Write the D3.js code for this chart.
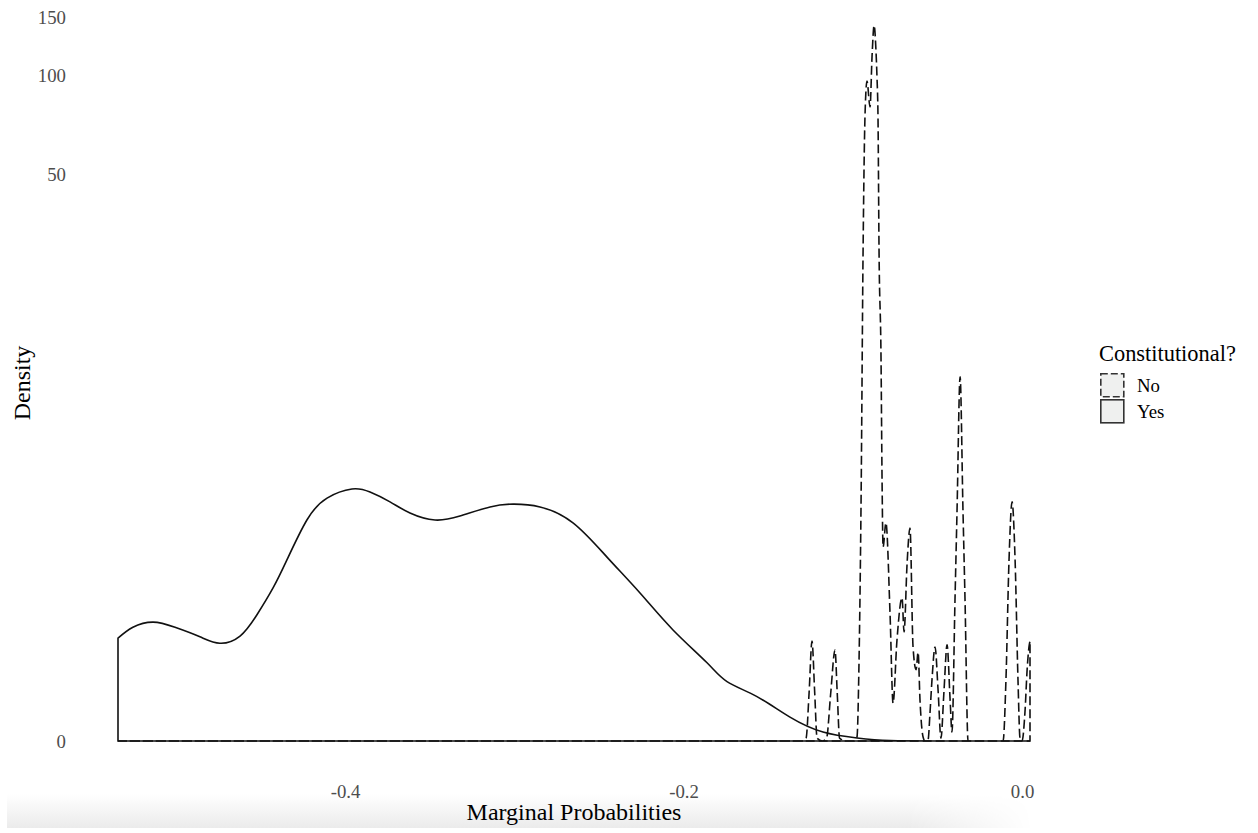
<!DOCTYPE html>
<html lang="en">
<head>
  <meta charset="UTF-8">
  <title>Marginal Probabilities Density</title>
  <style>
    html, body {
      margin: 0;
      padding: 0;
      background: #fff;
    }
    #svg {
      display: block;
      font-family: "Liberation Serif", "DejaVu Serif", serif;
    }
  </style>
</head>
<body>
  <svg id="svg" width="1258" height="833"></svg>

  <script src="https://cdn.jsdelivr.net/npm/d3@7"></script>
  <script>
    // Yes group: density of marginal probabilities
    const yesX = [-0.5341, -0.5253, -0.5134, -0.5004, -0.4857, -0.4739, -0.4620, -0.4520, -0.4425, -0.4343,
      -0.4225, -0.4106, -0.3959, -0.3852, -0.3734, -0.3616, -0.3468, -0.3321, -0.3143, -0.3007,
      -0.2848, -0.2653, -0.2452, -0.2257, -0.2062, -0.1861, -0.1743, -0.1566, -0.1371, -0.1176,
      -0.0975, -0.0780, -0.0425, 0.0047];
    const yesDensity = [1.04, 1.20, 1.28, 1.20, 1.06, 0.97, 1.07, 1.40, 1.89, 2.51,
      3.63, 4.39, 4.74, 4.62, 4.25, 3.86, 3.63, 3.76, 4.07, 4.17,
      4.07, 3.54, 2.58, 1.79, 1.16, 0.72, 0.51, 0.36, 0.18, 0.064,
      0.021, 0.003, 0.0005, 0];

    // No group
    const noX = [-0.5341, -0.1300, -0.1276, -0.1258, -0.1241, -0.1225, -0.1211, -0.1180, -0.1155, -0.1130,
      -0.1105, -0.1092, -0.1078, -0.1040, -0.0990, -0.0975, -0.0963, -0.0951, -0.0939, -0.0928,
      -0.0916, -0.0898, -0.0886, -0.0874, -0.0863, -0.0857, -0.0851, -0.0845, -0.0833, -0.0827,
      -0.0821, -0.0804, -0.0780, -0.0762, -0.0739, -0.0709, -0.0697, -0.0679, -0.0662, -0.0644,
      -0.0626, -0.0614, -0.0603, -0.0585, -0.0573, -0.0555, -0.0544, -0.0532, -0.0514, -0.0496,
      -0.0479, -0.0461, -0.0443, -0.0425, -0.0414, -0.0396, -0.0384, -0.0366, -0.0349, -0.0337,
      -0.0319, -0.0112, -0.0095, -0.0077, -0.0059, -0.0041, -0.0024, -0.0012, 0.0000, 0.0018,
      0.0030, 0.0041, 0.0047];
    const noDensity = [0, 0, 0.02, 0.40, 1.0, 0.40, 0.02, 0, 0.02, 0.40,
      0.88, 0.40, 0.02, 0, 0, 0.03, 0.75, 4.3, 29.5, 74.7,
      96.2, 80.2, 115, 142, 119, 99, 74.7, 29.5, 13.0, 5.1,
      2.84, 3.54, 1.43, 0.30, 1.01, 1.70, 1.13, 2.44, 3.38, 0.92,
      0.64, 0.85, 0.33, 0.03, 0, 0.01, 0.21, 0.53, 0.92, 0.42,
      0.02, 0.42, 0.95, 0.33, 0.064, 1.68, 3.96, 11.5, 3.96, 1.68,
      0, 0, 0.53, 2.5, 4.25, 2.5, 0.53, 0.02, 0, 0.24,
      0.64, 0.92, 1.0];

    const groups = ['No', 'Yes'];
    const xTicks = [-0.4, -0.2, 0.0];
    const yTicks = [0, 50, 100, 150];

    const svg = d3.select('#svg');

    const xScale = d3.scaleLinear()
      .domain([-0.5341, 0.0047])
      .range([118, 1030]);

    // log(1 + y) scale
    const yScale = d3.scaleSymlog()
      .constant(1)
      .domain([0, 150])
      .range([741, 741 - 144.2 * Math.log(151)]);

    // bottom shadow band
    const defs = svg.append('defs');
    const gv = defs.append('linearGradient').attr('id', 'shadeV')
      .attr('x1', 0).attr('y1', 0).attr('x2', 0).attr('y2', 1);
    gv.append('stop').attr('offset', 0).attr('stop-color', '#ffffff');
    gv.append('stop').attr('offset', 1).attr('stop-color', '#ebebeb');
    const gh = defs.append('linearGradient').attr('id', 'fadeH')
      .attr('x1', 0).attr('y1', 0).attr('x2', 1).attr('y2', 0);
    gh.append('stop').attr('offset', 0.72).attr('stop-color', '#fff');
    gh.append('stop').attr('offset', 0.82).attr('stop-color', '#000');
    defs.append('mask').attr('id', 'bandMask')
      .append('rect')
      .attr('x', 7).attr('y', 794).attr('width', 1251).attr('height', 34)
      .attr('fill', 'url(#fadeH)');
    svg.append('rect')
      .attr('x', 7).attr('y', 794).attr('width', 1251).attr('height', 34)
      .attr('fill', 'url(#shadeV)')
      .attr('mask', 'url(#bandMask)');

    const smoothLine = d3.line()
      .x(d => xScale(d[0]))
      .y(d => yScale(d[1]))
      .curve(d3.curveNatural);

    const spikyLine = d3.line()
      .x(d => xScale(d[0]))
      .y(d => yScale(d[1]))
      .curve(d3.curveMonotoneX);

    function densityPath(xs, ys, line) {
      const pts = xs.map((v, i) => [v, ys[i]]);
      const x0 = xScale(xs[0]);
      const x1 = xScale(xs[xs.length - 1]);
      const y0 = yScale(0);
      return `M${x0},${y0}L` + line(pts).slice(1) + `L${x1},${y0}Z`;
    }

    svg.append('path')
      .attr('d', densityPath(noX, noDensity, spikyLine))
      .attr('fill', 'none')
      .attr('stroke', '#111')
      .attr('stroke-width', 1.6)
      .attr('stroke-dasharray', '9,4');

    svg.append('path')
      .attr('d', densityPath(yesX, yesDensity, smoothLine))
      .attr('fill', 'none')
      .attr('stroke', '#111')
      .attr('stroke-width', 1.6);

    // axes
    const xAxis = svg.append('g')
      .attr('transform', 'translate(0,741)')
      .call(d3.axisBottom(xScale).tickValues(xTicks).tickSize(0).tickPadding(44)
        .tickFormat(d => d.toFixed(1)));
    xAxis.select('.domain').remove();
    xAxis.selectAll('text')
      .attr('fill', '#4d4d4d')
      .style('font-family', '"Liberation Serif", serif')
      .style('font-size', '18.8px');

    const yAxis = svg.append('g')
      .attr('transform', 'translate(66,0)')
      .call(d3.axisLeft(yScale).tickValues(yTicks).tickSize(0).tickPadding(0)
        .tickFormat(d3.format('d')));
    yAxis.select('.domain').remove();
    yAxis.selectAll('text')
      .attr('fill', '#4d4d4d')
      .style('font-family', '"Liberation Serif", serif')
      .style('font-size', '18.8px');

    svg.append('text')
      .attr('x', 574)
      .attr('y', 820)
      .attr('text-anchor', 'middle')
      .style('font-size', '24px')
      .text('Marginal Probabilities');

    svg.append('text')
      .attr('transform', 'translate(30,383) rotate(-90)')
      .attr('text-anchor', 'middle')
      .style('font-size', '24px')
      .text('Density');

    // legend
    const legend = svg.append('g');
    legend.append('text')
      .attr('x', 1099)
      .attr('y', 361)
      .style('font-size', '22.4px')
      .text('Constitutional?');

    const keys = legend.selectAll('g.key')
      .data(groups)
      .enter()
      .append('g')
      .attr('class', 'key')
      .attr('transform', (d, i) => `translate(1100,${373 + i * 26})`);

    keys.append('rect')
      .attr('x', 0.8).attr('y', 0.8)
      .attr('width', 23).attr('height', 23)
      .attr('fill', '#eff0ef')
      .attr('stroke', '#333')
      .attr('stroke-width', 1.6)
      .attr('stroke-dasharray', d => d === 'No' ? '7,3' : null);

    keys.append('text')
      .attr('x', 37)
      .attr('y', 19)
      .style('font-size', '18.8px')
      .text(d => d);
  </script>
</body>
</html>
